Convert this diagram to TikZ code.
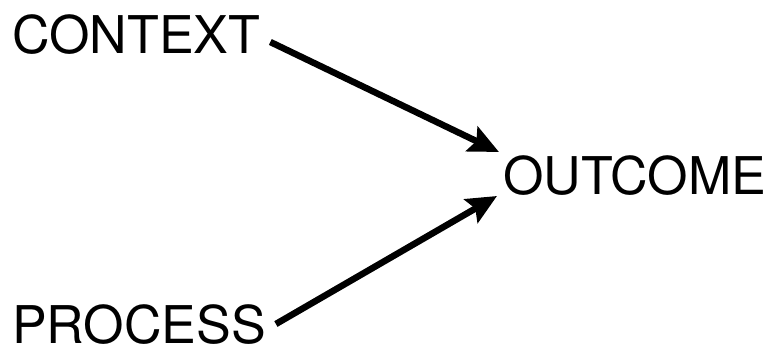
\documentclass[tikz,border=0pt]{standalone}
\usepackage{fontspec}
\setmainfont{TeX Gyre Heros}
\usetikzlibrary{arrows.meta}
\tikzset{
  lbl/.style={inner sep=0pt, anchor=base west, font=\fontsize{52}{60}\selectfont},
  conn/.style={line width=6.5pt, -{Stealth[length=30pt,width=27pt,inset=5pt]}}
}
\begin{document}
\begin{tikzpicture}[x=1pt,y=-1pt]
\useasboundingbox (0,0) rectangle (765,352);
\node[lbl] (context) at (12,54) {CONTEXT};
\node[lbl] (process) at (12,343) {PROCESS};
\node[lbl] (outcome) at (503,195) {OUTCOME};
\coordinate (c1) at ([xshift=10pt,yshift=12pt]context.base east);
\coordinate (p1) at ([xshift=10pt,yshift=19pt]process.base east);
\coordinate (o1) at ([xshift=-4pt,yshift=43pt]outcome.base west);
\coordinate (o2) at ([xshift=-6pt,yshift=-1pt]outcome.base west);
\draw[conn] (c1) -- (o1);
\draw[conn] (p1) -- (o2);
\end{tikzpicture}
\end{document}
